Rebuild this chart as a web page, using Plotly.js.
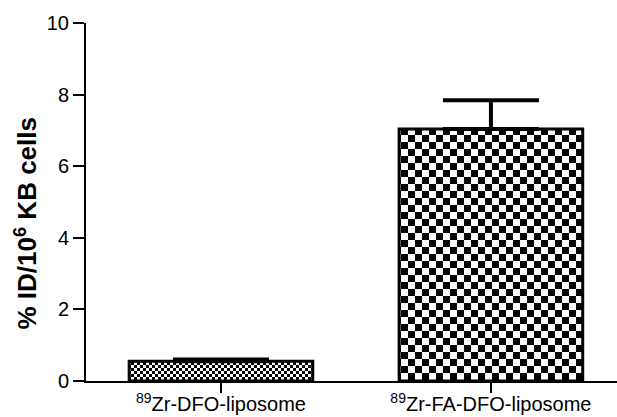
<!DOCTYPE html>
<html>
<head>
<meta charset="utf-8">
<script src="https://cdn.plot.ly/plotly-3.0.1.min.js"></script>
<style>
  html, body { margin: 0; padding: 0; background: #fff; }
  #chart { width: 617px; height: 417px; }
</style>
</head>
<body>
<div id="chart"></div>
<script>
// Cell uptake of the two liposome formulations
const categories = ["<sup>89</sup>Zr-DFO-liposome", "<sup>89</sup>Zr-FA-DFO-liposome"];
const uptake = [0.55, 7.04];
const uptakeErr = [0.05, 0.80];
const yTicks = [0, 2, 4, 6, 8, 10];
const yTitle = "<b>% ID/10<sup>6</sup> KB cells</b>";

// checker tile size (px) for each bar's fill
const checkerSize = [6, 14];

const FONT = "Liberation Sans, Arial, sans-serif";

const trace = {
  type: "bar",
  x: [0, 1],
  y: uptake,
  width: 0.68,
  marker: {
    color: "#000",
    line: { color: "#000", width: 3 },
    pattern: {
      shape: "+",
      size: checkerSize,
      fgcolor: "#000",
      bgcolor: "#fff",
      fillmode: "replace",
      solidity: 0.3
    }
  },
  error_y: {
    type: "data",
    symmetric: false,
    array: uptakeErr,
    arrayminus: [0, 0],
    color: "#000",
    thickness: 4,
    width: 48
  },
  hoverinfo: "skip"
};

const layout = {
  width: 617,
  height: 417,
  margin: { l: 86, r: 0, t: 23, b: 36 },
  paper_bgcolor: "#fff",
  plot_bgcolor: "#fff",
  showlegend: false,
  font: { family: FONT, color: "#000", size: 19 },
  xaxis: {
    range: [-0.5, 1.467],
    tickmode: "array",
    tickvals: [0, 1],
    ticktext: categories,
    ticks: "outside",
    ticklen: 10,
    tickwidth: 2,
    tickcolor: "#000",
    ticklabelstandoff: -6,
    showline: true,
    linecolor: "#000",
    linewidth: 2,
    showgrid: false,
    zeroline: false,
    fixedrange: true,
    tickfont: { family: FONT, size: 20, color: "#000" }
  },
  yaxis: {
    range: [0, 10],
    tickmode: "array",
    tickvals: yTicks,
    ticktext: yTicks.map(String),
    ticks: "outside",
    ticklen: 11,
    tickwidth: 2,
    tickcolor: "#000",
    showline: true,
    linecolor: "#000",
    linewidth: 2,
    showgrid: false,
    zeroline: false,
    fixedrange: true,
    tickfont: { family: FONT, size: 20, color: "#000" }
  },
  annotations: [{
    text: yTitle,
    xref: "paper", yref: "paper",
    x: -0.113, y: 0.44,
    xanchor: "center", yanchor: "middle",
    textangle: -90,
    showarrow: false,
    font: { family: FONT, size: 26, color: "#000" }
  }]
};

// Turn each bar's fill tile into a black-and-white checkerboard
function checkerTiles(gd) {
  const ns = "http://www.w3.org/2000/svg";
  gd.querySelectorAll("defs pattern").forEach(p => {
    const w = parseFloat(p.getAttribute("width"));
    const c = w / 2;
    while (p.firstChild) p.removeChild(p.firstChild);
    const bg = document.createElementNS(ns, "rect");
    bg.setAttribute("width", w); bg.setAttribute("height", w);
    bg.setAttribute("fill", "#fff");
    p.appendChild(bg);
    [[0, 0], [c, c]].forEach(([px, py]) => {
      const r = document.createElementNS(ns, "rect");
      r.setAttribute("x", px); r.setAttribute("y", py);
      r.setAttribute("width", c); r.setAttribute("height", c);
      r.setAttribute("fill", "#000");
      p.appendChild(r);
    });
  });
}

Plotly.newPlot("chart", [trace], layout, { staticPlot: true, displayModeBar: false })
  .then(checkerTiles);
</script>
</body>
</html>
